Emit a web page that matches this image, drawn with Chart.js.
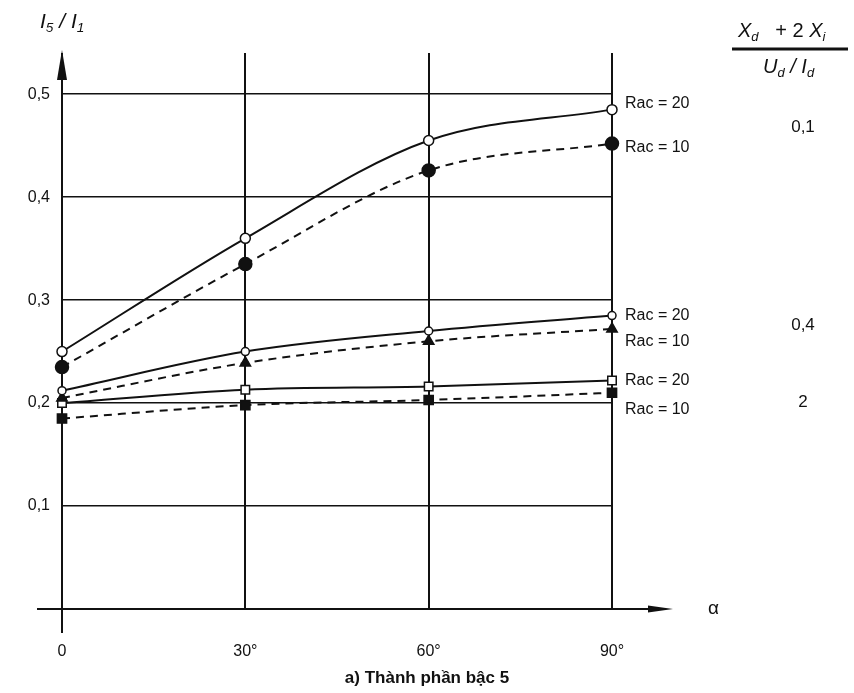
<!DOCTYPE html>
<html>
<head>
<meta charset="utf-8">
<script src="https://cdn.jsdelivr.net/npm/chart.js@4/dist/chart.umd.min.js"></script>
<style>
  html, body { margin: 0; padding: 0; background: #fff; }
  #wrap { width: 854px; height: 693px; }
</style>
</head>
<body>
<div id="wrap"><canvas id="harmonic-chart" width="854" height="693"></canvas></div>
<script>
// firing angle (degrees)
const angles = [0, 30, 60, 90];
const yTicks = [0.1, 0.2, 0.3, 0.4, 0.5];

// I5/I1 for each reactance ratio and short-circuit ratio
const x01Rac20 = [0.25, 0.36, 0.455, 0.485];
const x01Rac10 = [0.235, 0.335, 0.426, 0.452];
const x04Rac20 = [0.212, 0.25, 0.27, 0.285];
const x04Rac10 = [0.205, 0.239, 0.26, 0.272];
const x2Rac20 = [0.2, 0.213, 0.216, 0.222];
const x2Rac10 = [0.185, 0.198, 0.203, 0.21];

const seriesLabels = ['Rac = 20', 'Rac = 10', 'Rac = 20', 'Rac = 10', 'Rac = 20', 'Rac = 10'];
const ratioLabels = ['0,1', '0,4', '2'];

const FONT = '"Liberation Sans", Arial, sans-serif';
const INK = '#111';

function pts(vals) {
  return angles.map((a, i) => ({ x: a, y: vals[i] }));
}

function series(label, vals, dashed, style, filled, radius) {
  return {
    label: label,
    data: pts(vals),
    borderColor: INK,
    borderWidth: 2,
    borderDash: dashed ? [8, 6] : [],
    pointStyle: style,
    pointRadius: radius,
    pointBorderWidth: 1.5,
    pointBorderColor: INK,
    pointBackgroundColor: filled ? INK : '#fff',
    cubicInterpolationMode: 'monotone',
    clip: false
  };
}

// text run with subscripts: parts = [[text, isSub, italic]]
function drawParts(ctx, parts, x, y, size) {
  let cx = x;
  parts.forEach(([t, sub, it]) => {
    const s = sub ? size * 0.65 : size;
    ctx.font = (it ? 'italic ' : '') + s + 'px ' + FONT;
    ctx.fillText(t, cx, sub ? y + size * 0.3 : y);
    cx += ctx.measureText(t).width;
  });
  return cx;
}

const overlay = {
  id: 'overlay',
  afterDraw(chart) {
    const { ctx, scales: { x, y } } = chart;
    const x0 = x.getPixelForValue(0);
    const y0 = y.getPixelForValue(0);
    ctx.save();
    ctx.strokeStyle = INK;
    ctx.fillStyle = INK;

    // horizontal axis with arrow
    ctx.lineWidth = 2;
    ctx.beginPath();
    ctx.moveTo(37, y0);
    ctx.lineTo(660, y0);
    ctx.stroke();
    ctx.beginPath();
    ctx.moveTo(648, y0 - 3.5);
    ctx.lineTo(673, y0);
    ctx.lineTo(648, y0 + 3.5);
    ctx.closePath();
    ctx.fill();

    // vertical axis continues below origin, arrow on top
    ctx.beginPath();
    ctx.moveTo(x0, y0);
    ctx.lineTo(x0, y0 + 24);
    ctx.stroke();
    ctx.beginPath();
    ctx.moveTo(x0, 50);
    ctx.lineTo(x0 - 5, 80);
    ctx.lineTo(x0 + 5, 80);
    ctx.closePath();
    ctx.fill();

    ctx.textBaseline = 'middle';
    ctx.textAlign = 'left';

    // axis titles
    drawParts(ctx, [['I', false, true], ['5', true, true], [' / ', false, true], ['I', false, true], ['1', true, true]], 40, 22, 21);
    ctx.font = '19px ' + FONT;
    ctx.fillText('α', 708, y0);

    // series labels at the right end of each curve
    const labelY = [104, 148, 316, 342, 381, 410];
    ctx.font = '16px ' + FONT;
    seriesLabels.forEach((t, i) => ctx.fillText(t, 625, labelY[i]));

    // reactance ratio column
    ctx.textAlign = 'center';
    ctx.font = '17px ' + FONT;
    const ratioY = [127, 325, 402];
    ratioLabels.forEach((t, i) => ctx.fillText(t, 803, ratioY[i]));

    // (Xd + 2 Xi) / (Ud / Id)
    ctx.textAlign = 'left';
    drawParts(ctx, [['X', false, true], ['d', true, true], ['   + 2 ', false, false], ['X', false, true], ['i', true, true]], 738, 31, 20);
    ctx.lineWidth = 3;
    ctx.beginPath();
    ctx.moveTo(732, 49);
    ctx.lineTo(848, 49);
    ctx.stroke();
    drawParts(ctx, [['U', false, true], ['d', true, true], [' / ', false, true], ['I', false, true], ['d', true, true]], 763, 67, 20);

    // caption
    ctx.textAlign = 'center';
    ctx.font = 'bold 17px ' + FONT;
    ctx.fillText('a) Thành phần bậc 5', 427, 678);
    ctx.restore();
  }
};

new Chart(document.getElementById('harmonic-chart').getContext('2d'), {
  type: 'line',
  data: {
    datasets: [
      series(seriesLabels[0], x01Rac20, false, 'circle', false, 5),
      series(seriesLabels[1], x01Rac10, true, 'circle', true, 6.5),
      series(seriesLabels[2], x04Rac20, false, 'circle', false, 4),
      series(seriesLabels[3], x04Rac10, true, 'triangle', true, 6),
      series(seriesLabels[4], x2Rac20, false, 'rect', false, 6),
      series(seriesLabels[5], x2Rac10, true, 'rect', true, 6.5)
    ]
  },
  options: {
    responsive: false,
    animation: false,
    layout: { padding: { top: 53, right: 242, left: 0, bottom: 0 } },
    plugins: { legend: { display: false }, tooltip: { enabled: false } },
    scales: {
      x: {
        type: 'linear',
        min: 0,
        max: 90,
        afterFit(scale) { scale.height = 84; },
        afterBuildTicks(scale) { scale.ticks = angles.map(v => ({ value: v })); },
        ticks: {
          color: INK,
          padding: 33,
          font: { family: FONT, size: 16 },
          callback: v => v === 0 ? '0' : v + '°'
        },
        grid: { color: INK, lineWidth: 2, drawTicks: false },
        border: { display: false }
      },
      y: {
        min: 0,
        max: 0.54,
        afterFit(scale) { scale.width = 62; },
        afterBuildTicks(scale) { scale.ticks = [0].concat(yTicks).map(v => ({ value: v })); },
        ticks: {
          color: INK,
          padding: 12,
          font: { family: FONT, size: 16 },
          callback: v => v === 0 ? '' : v.toFixed(1).replace('.', ',')
        },
        grid: { color: INK, lineWidth: 1.5, drawTicks: false },
        border: { display: false }
      }
    }
  },
  plugins: [overlay]
});
</script>
</body>
</html>
